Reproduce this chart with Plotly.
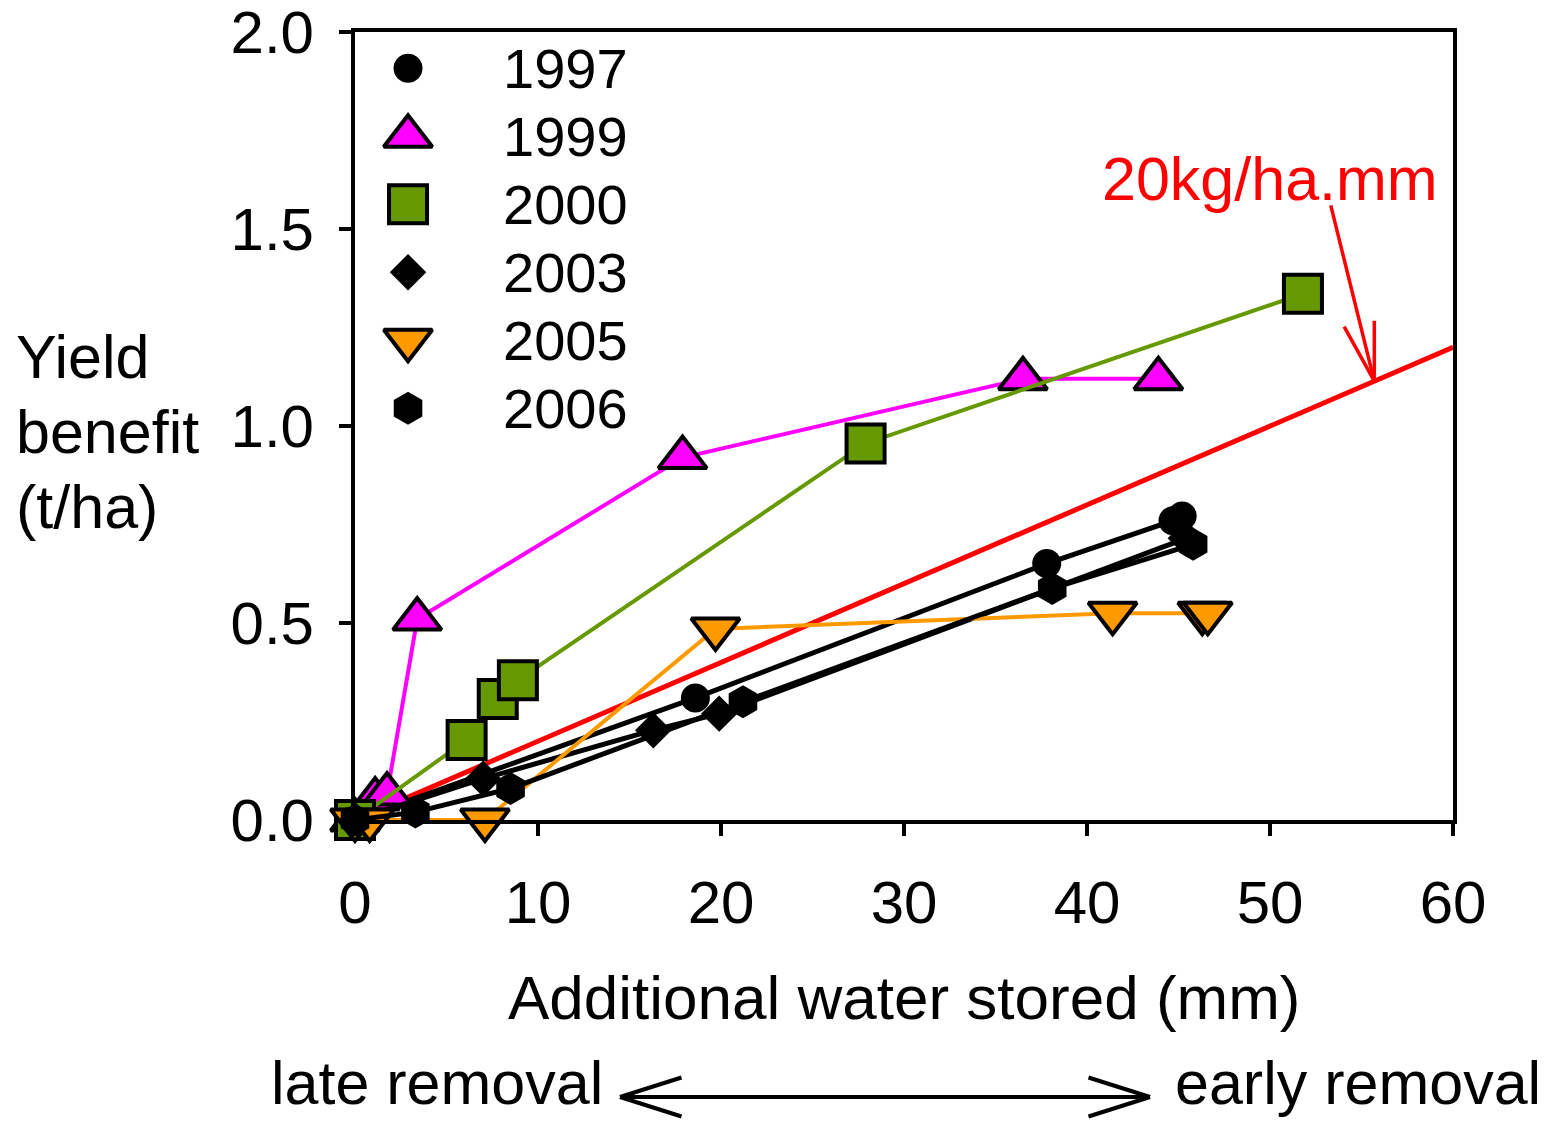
import plotly.graph_objects as go

# ---------------- data ----------------
years = ["1997", "1999", "2000", "2003", "2005", "2006"]

water_1997 = [0.0, 18.6, 37.8, 44.7, 45.2]
yield_1997 = [0.0, 0.31, 0.651, 0.76, 0.772]

water_1999 = [0.0, 1.1, 1.75, 3.4, 17.9, 36.5, 43.9]
yield_1999 = [0.0, 0.053, 0.066, 0.51, 0.92, 1.12, 1.12]

water_2000 = [0.0, 6.1, 7.8, 8.9, 27.9, 51.8]
yield_2000 = [0.0, 0.203, 0.307, 0.355, 0.956, 1.336]

water_2003 = [0.0, 7.0, 16.3, 19.9, 45.4]
yield_2003 = [0.0, 0.105, 0.228, 0.27, 0.715]

water_2005 = [0.0, 0.8, 7.1, 19.7, 41.4, 46.3, 46.6]
yield_2005 = [0.0, 0.0, 0.0, 0.485, 0.525, 0.525, 0.525]

water_2006 = [0.0, 3.3, 8.5, 21.2, 38.1, 45.8]
yield_2006 = [0.0, 0.02, 0.08, 0.30, 0.588, 0.70]

ref_water = [0, 60]
ref_rate = 0.02  # t/ha per mm  (20 kg/ha.mm)
ref_yield = [w * ref_rate for w in ref_water]

x_ticks = [0, 10, 20, 30, 40, 50, 60]
y_ticks = [0.0, 0.5, 1.0, 1.5, 2.0]

# ---------------- styles ----------------
FONT = "Liberation Sans, Arial, sans-serif"
styles = {
    "1997": dict(symbol="circle", size=29, color="black", line=dict(color="black", width=0), lc="black", lw=5),
    "1999": dict(symbol="triangle-up", size=42, color="#FF00FF", line=dict(color="black", width=4), lc="#FF00FF", lw=4),
    "2000": dict(symbol="square", size=38, color="#669900", line=dict(color="black", width=4), lc="#669900", lw=4),
    "2003": dict(symbol="diamond", size=28, color="black", line=dict(color="black", width=0), lc="black", lw=5),
    "2005": dict(symbol="triangle-down", size=42, color="#FF9900", line=dict(color="black", width=4), lc="#FF9900", lw=4),
    "2006": dict(symbol="hexagon", size=33, color="black", line=dict(color="black", width=0), lc="black", lw=5),
}
series = {
    "1997": (water_1997, yield_1997),
    "1999": (water_1999, yield_1999),
    "2000": (water_2000, yield_2000),
    "2003": (water_2003, yield_2003),
    "2005": (water_2005, yield_2005),
    "2006": (water_2006, yield_2006),
}

fig = go.Figure()

# reference line 20 kg/ha.mm
fig.add_trace(go.Scatter(x=ref_water, y=ref_yield, mode="lines",
                         line=dict(color="#FF0000", width=5), showlegend=False,
                         hoverinfo="skip", cliponaxis=False))

for yr in years:
    st = styles[yr]
    xs, ys = series[yr]
    fig.add_trace(go.Scatter(
        x=xs, y=ys, mode="lines+markers", name=yr, showlegend=False,
        line=dict(color=st["lc"], width=st["lw"]),
        marker=dict(symbol=st["symbol"], size=st["size"], color=st["color"], line=st["line"]),
        cliponaxis=False,
    ))

# manual legend (large keys) on an overlay axis with [0,1] range
leg_x = 0.0483
leg_top = 0.954
leg_step = 0.0863
leg_text_x = 0.133
for i, yr in enumerate(years):
    st = styles[yr]
    fig.add_trace(go.Scatter(
        x=[leg_x], y=[leg_top - i * leg_step], mode="markers", xaxis="x2", yaxis="y2",
        showlegend=False, hoverinfo="skip", cliponaxis=False,
        marker=dict(symbol=st["symbol"], size=st["size"], color=st["color"], line=st["line"]),
    ))

annotations = []
for i, yr in enumerate(years):
    annotations.append(dict(x=leg_text_x, y=leg_top - i * leg_step, xref="paper", yref="paper",
                            text=yr, showarrow=False, xanchor="left", yanchor="middle",
                            font=dict(size=56, color="black", family=FONT)))

# plot-area pixel geometry (for paper-coordinate decorations)
L, T, W, H = 355, 32, 1098, 788


def px(xp):
    return (xp - L) / W


def py(yp):
    return (T + H - yp) / H


# axis titles
annotations.append(dict(x=0.5, y=py(997), xref="paper", yref="paper", text="Additional water stored (mm)",
                        showarrow=False, xanchor="center", yanchor="middle",
                        font=dict(size=62, color="black", family=FONT)))
for txt, ypix in [("Yield", 357), ("benefit", 432), ("(t/ha)", 507)]:
    annotations.append(dict(x=px(14), y=py(ypix), xref="paper", yref="paper", text=txt,
                            showarrow=False, xanchor="left", yanchor="middle", align="left",
                            font=dict(size=61, color="black", family=FONT)))

# late / early removal
annotations.append(dict(x=px(605), y=py(1083), xref="paper", yref="paper", text="late removal",
                        showarrow=False, xanchor="right", yanchor="middle",
                        font=dict(size=61, color="black", family=FONT)))
annotations.append(dict(x=px(1173), y=py(1083), xref="paper", yref="paper", text="early removal",
                        showarrow=False, xanchor="left", yanchor="middle",
                        font=dict(size=61, color="black", family=FONT)))


def seg(xp_tip, yp_tip, dx, dy, color, width):
    """line from tip (paper px) back by (dx,dy) pixels"""
    return dict(x=px(xp_tip), y=py(yp_tip), xref="paper", yref="paper", text="",
                showarrow=True, arrowhead=0, ax=dx, ay=dy, axref="pixel", ayref="pixel",
                arrowwidth=width, arrowcolor=color, standoff=0)


# double arrow late <-> early
shaft_y = 1097
left_tip, right_tip = 620, 1150
annotations.append(seg(right_tip, shaft_y, -(right_tip - left_tip), 0, "black", 4))
annotations.append(seg(left_tip, shaft_y, 63, -20, "black", 4))
annotations.append(seg(left_tip, shaft_y, 63, 20, "black", 4))
annotations.append(seg(right_tip, shaft_y, -63, -20, "black", 4))
annotations.append(seg(right_tip, shaft_y, -63, 20, "black", 4))

# 20kg/ha.mm label and arrow
arrow_x = 55.7
tip = dict(x=arrow_x, y=arrow_x * ref_rate, xref="x", yref="y", text="", showarrow=True,
           arrowhead=0, arrowwidth=3.5, arrowcolor="#FF0000", standoff=0)
annotations.append(dict(tip, ax=53.3, ay=1.564, axref="x", ayref="y"))
annotations.append(dict(tip, ax=-31, ay=-56, axref="pixel", ayref="pixel"))
annotations.append(dict(tip, ax=0, ay=-62, axref="pixel", ayref="pixel"))
annotations.append(dict(x=50.0, y=1.627, xref="x", yref="y", text="20kg/ha.mm", showarrow=False,
                        xanchor="center", yanchor="middle",
                        font=dict(size=61, color="#FF0000", family=FONT)))

axis_common = dict(showline=True, linewidth=4, linecolor="black", mirror=True,
                   ticks="outside", ticklen=12, tickwidth=4, tickcolor="black",
                   showgrid=False, zeroline=False, automargin=False,
                   tickfont=dict(size=60, color="black", family=FONT))

fig.update_layout(
    width=1552, height=1121,
    margin=dict(l=355, r=99, t=32, b=301, pad=0, autoexpand=False),
    paper_bgcolor="white", plot_bgcolor="white",
    font=dict(family=FONT, color="black"),
    showlegend=False,
    xaxis=dict(range=[0, 60], tickvals=x_ticks, ticklabelstandoff=15, **axis_common),
    yaxis=dict(range=[0, 2.0005], tickvals=y_ticks, tickformat=".1f", ticklabelstandoff=13,
               ticklabeloverflow="allow", **axis_common),
    xaxis2=dict(range=[0, 1], overlaying="x", visible=False, anchor="y2", automargin=False),
    yaxis2=dict(range=[0, 1], overlaying="y", visible=False, anchor="x2", automargin=False),
    annotations=annotations,
)

fig.write_html("out.html", config={"displayModeBar": False},
               post_script="document.body.style.margin='0';")
